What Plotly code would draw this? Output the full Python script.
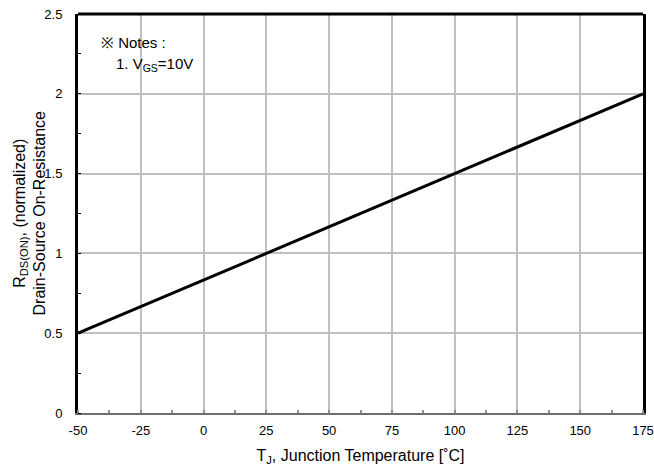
import plotly.graph_objects as go

# data
temp_c = [-50, 25, 175]
rds_norm = [0.5, 1.0, 2.0]
x_ticks = [-50, -25, 0, 25, 50, 75, 100, 125, 150, 175]
y_ticks = [0, 0.5, 1, 1.5, 2, 2.5]
y_tick_text = ["0", "0.5", "1", "1.5", "2", "2.5"]
x_title = "T<sub>J</sub>, Junction Temperature [˚C]"
y_title = "R<sub>DS(ON)</sub>, (normalized)<br>Drain-Source On-Resistance"

FONT = "Liberation Sans, Arial, sans-serif"

fig = go.Figure()
fig.add_trace(go.Scatter(x=temp_c, y=rds_norm, mode="lines",
                         line=dict(color="black", width=3), showlegend=False,
                         hoverinfo="skip"))

fig.update_layout(
    width=654, height=468,
    margin=dict(l=78, r=11, t=14, b=55, autoexpand=False),
    paper_bgcolor="white", plot_bgcolor="white",
    font=dict(family=FONT, size=13, color="black"),
    xaxis=dict(
        range=[-50, 175], tickmode="array", tickvals=x_ticks,
        ticktext=[str(v) for v in x_ticks], automargin=False,
        ticklabeloverflow="allow",
        showgrid=True, gridcolor="#c0c0c0", gridwidth=2,
        showline=True, linecolor="#6e6e6e", linewidth=2, mirror=False,
        ticks="", zeroline=False, ticklabelstandoff=4,
        minor=dict(dtick=12.5, tick0=-50, ticks="inside", ticklen=3,
                   tickcolor="#909090", tickwidth=2, showgrid=False),
        title=dict(text=x_title, font=dict(size=16), standoff=13),
        tickfont=dict(size=13),
    ),
    yaxis=dict(
        range=[0, 2.5], tickmode="array", tickvals=y_ticks, ticktext=y_tick_text,
        automargin=False, ticklabeloverflow="allow",
        showgrid=True, gridcolor="#c0c0c0", gridwidth=2,
        showline=True, linecolor="black", linewidth=3, mirror=True,
        ticks="", zeroline=False, ticklabelstandoff=10,
        minor=dict(dtick=0.25, tick0=0, ticks="inside", ticklen=3,
                   tickcolor="black", tickwidth=1, showgrid=False),
        tickfont=dict(size=13),
    ),
    shapes=[dict(type="line", xref="paper", yref="paper", x0=0, x1=1, y0=1, y1=1,
                 line=dict(color="black", width=3))],
    annotations=[
        dict(text=y_title, xref="paper", yref="paper", x=0, y=0.5,
             xanchor="center", yanchor="middle", xshift=-49, textangle=-90,
             showarrow=False, font=dict(size=16, family=FONT)),
        dict(text="※ Notes :", xref="paper", yref="paper", x=0.037, y=0.928,
             xanchor="left", yanchor="middle", showarrow=False,
             font=dict(size=15, family=FONT)),
        dict(text="1. V<sub>GS</sub>=10V", xref="paper", yref="paper", x=0.064, y=0.873,
             xanchor="left", yanchor="middle", showarrow=False,
             font=dict(size=15, family=FONT)),
    ],
)

fig.write_html("out.html", config={"displayModeBar": False},
               post_script="document.body.style.margin='0px';")
